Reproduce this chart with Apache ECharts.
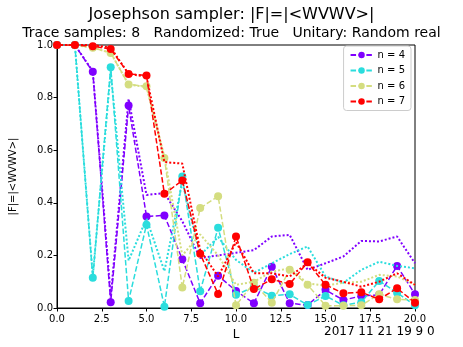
<!DOCTYPE html>
<html>
<head>
<meta charset="utf-8">
<script src="https://cdn.jsdelivr.net/npm/echarts@6/dist/echarts.min.js"></script>
<style>
  html, body { margin: 0; padding: 0; background: #fff; }
  #chart { width: 463px; height: 347px; }
</style>
</head>
<body>
<div id="chart"></div>
<script>
// L values on the x axis
const L = [0, 1, 2, 3, 4, 5, 6, 7, 8, 9, 10, 11, 12, 13, 14, 15, 16, 17, 18, 19, 20];
const labels = ['n = 4', 'n = 5', 'n = 6', 'n = 7'];
const colors = ['#8000ff', '#2adddd', '#d4dd80', '#ff0000'];
const xTicks = [0, 2.5, 5, 7.5, 10, 12.5, 15, 17.5, 20];
const yTicks = [0, 0.2, 0.4, 0.6, 0.8, 1.0];

// dashed lines with markers
const n4 = [1.0, 1.0, 0.898, 0.022, 0.77, 0.348, 0.352, 0.185, 0.018, 0.123, 0.065, 0.018, 0.157, 0.018, 0.011, 0.069, 0.03, 0.046, 0.05, 0.16, 0.052];
const n5 = [1.0, 1.0, 0.115, 0.915, 0.027, 0.317, 0.005, 0.5, 0.064, 0.305, 0.05, 0.08, 0.047, 0.052, 0.011, 0.046, 0.01, 0.022, 0.103, 0.058, 0.01];
const n6 = [1.0, 1.0, 0.99, 0.97, 0.85, 0.843, 0.57, 0.078, 0.38, 0.425, 0.01, 0.096, 0.02, 0.145, 0.088, 0.009, 0.009, 0.01, 0.052, 0.033, 0.03];
const n7 = [1.0, 1.0, 0.995, 0.985, 0.89, 0.884, 0.434, 0.485, 0.206, 0.053, 0.272, 0.072, 0.109, 0.091, 0.174, 0.088, 0.056, 0.06, 0.033, 0.075, 0.02];

// dotted lines without markers
const n4dot = [1.0, 1.0, 0.9, 0.043, 0.795, 0.43, 0.437, 0.33, 0.19, 0.2, 0.21, 0.22, 0.272, 0.278, 0.145, 0.17, 0.196, 0.255, 0.253, 0.272, 0.17];
const n5dot = [1.0, 1.0, 0.12, 0.9, 0.18, 0.34, 0.14, 0.48, 0.2, 0.27, 0.183, 0.134, 0.17, 0.205, 0.234, 0.12, 0.096, 0.145, 0.176, 0.16, 0.151];
const n6dot = [1.0, 1.0, 0.99, 0.97, 0.85, 0.84, 0.575, 0.2, 0.28, 0.2, 0.088, 0.1, 0.138, 0.151, 0.094, 0.085, 0.096, 0.1, 0.126, 0.12, 0.088];
const n7dot = [1.0, 1.0, 1.0, 0.99, 0.89, 0.88, 0.555, 0.549, 0.22, 0.12, 0.25, 0.132, 0.132, 0.12, 0.17, 0.115, 0.1, 0.081, 0.1, 0.132, 0.088];

const dashed = [n4, n5, n6, n7];
const dotted = [n4dot, n5dot, n6dot, n7dot];
const font = 'DejaVu Sans';

const chart = echarts.init(document.getElementById('chart'));

const series = [];
labels.forEach((name, i) => {
  series.push({
    name: name,
    type: 'line',
    data: L.map((x, k) => [x, dashed[i][k]]),
    symbol: 'circle',
    symbolSize: 8,
    color: colors[i],
    lineStyle: { width: 1.5, type: [5.5, 2.4] },
    z: 2 + i * 2,
    animation: false
  });
  series.push({
    name: name + ' dotted',
    type: 'line',
    data: L.map((x, k) => [x, dotted[i][k]]),
    showSymbol: false,
    symbol: 'none',
    color: colors[i],
    lineStyle: { width: 2, type: [2, 2] },
    z: 3 + i * 2,
    animation: false
  });
});

const option = {
  backgroundColor: '#fff',
  textStyle: { fontFamily: font },
  title: [
    { text: 'Josephson sampler: |F|=|<WVWV>|', left: 'center', top: 2,
      textStyle: { fontFamily: font, fontSize: 16, fontWeight: 'normal', color: '#000' } },
    { text: 'Trace samples: 8   Randomized: True   Unitary: Random real', left: 'center', top: 21,
      textStyle: { fontFamily: font, fontSize: 14, fontWeight: 'normal', color: '#000' } }
  ],
  graphic: [
    { type: 'text', left: 324, top: 326,
      style: { text: '2017 11 21 19 9 0', font: '12px "DejaVu Sans"', fill: '#000' } }
  ],
  legend: {
    data: labels,
    orient: 'vertical',
    right: 52,
    top: 46,
    itemGap: 5.5,
    itemWidth: 22,
    itemHeight: 8,
    padding: [4, 6, 4, 6],
    borderColor: '#ccc',
    borderWidth: 1,
    borderRadius: 3,
    textStyle: { fontFamily: font, fontSize: 10, color: '#000' }
  },
  grid: { left: 57, right: 48, top: 45, bottom: 39, show: true, borderColor: '#000', borderWidth: 1 },
  xAxis: {
    type: 'value',
    min: 0, max: 20, interval: 2.5,
    name: 'L',
    nameLocation: 'middle',
    nameGap: 18,
    nameTextStyle: { fontFamily: font, fontSize: 12, color: '#000', verticalAlign: 'top' },
    axisLine: { lineStyle: { color: '#000' } },
    axisTick: { inside: false, length: 3.5, lineStyle: { color: '#000' } },
    axisLabel: { color: '#000', fontSize: 10, fontFamily: font, margin: 6,
      formatter: v => xTicks.includes(v) ? v.toFixed(1) : '' },
    splitLine: { show: false }
  },
  yAxis: {
    type: 'value',
    min: 0, max: 1, interval: 0.2,
    name: '|F|=|<WVWV>|',
    nameLocation: 'middle',
    nameGap: 39,
    nameTextStyle: { fontFamily: font, fontSize: 10, color: '#000' },
    axisLine: { lineStyle: { color: '#000' } },
    axisTick: { inside: false, length: 3.5, lineStyle: { color: '#000' } },
    axisLabel: { color: '#000', fontSize: 10, fontFamily: font, margin: 4,
      formatter: v => yTicks.some(t => Math.abs(t - v) < 1e-9) ? v.toFixed(1) : '' },
    splitLine: { show: false }
  },
  series: series
};

chart.setOption(option);
</script>
</body>
</html>
